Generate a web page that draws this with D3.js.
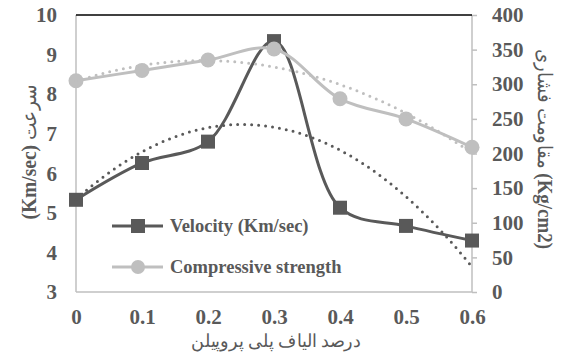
<!DOCTYPE html>
<html>
<head>
<meta charset="utf-8">
<script src="https://cdn.jsdelivr.net/npm/d3@7"></script>
<style>
body { margin: 0; background: #fff; }
text { font-family: "Liberation Serif", "DejaVu Serif", serif; }
</style>
</head>
<body>
<div class="chart"></div>
<script>
// fiber percent (x categories)
var fiber = [0, 0.1, 0.2, 0.3, 0.4, 0.5, 0.6];
var velocity = [5.33, 6.26, 6.8, 9.34, 5.13, 4.67, 4.3];
var strength = [305, 320, 335, 351, 279, 250, 209];
var leftTicks = [3, 4, 5, 6, 7, 8, 9, 10];
var rightTicks = [0, 50, 100, 150, 200, 250, 300, 350, 400];
var xTicks = [0, 0.1, 0.2, 0.3, 0.4, 0.5, 0.6];

var W = 568, H = 354,
	pL = 76, pT = 15, pR = 472, pB = 292;

var dark = '#595959', light = '#bfbfbf';
var tickFont = '21px';

var x = d3.scaleLinear().domain([0, 0.6]).range([pL, pR]);
var yL = d3.scaleLinear().domain([3, 10]).range([pB, pT]);
var yR = d3.scaleLinear().domain([0, 400]).range([pB, pT]);

var svg = d3.select('.chart')
	.append('svg')
	.attr('width', W)
	.attr('height', H);

// quadratic least squares trend (like excel poly 2)
function polyFit(xs, ys) {
	var n = xs.length, s = [0, 0, 0, 0, 0], t = [0, 0, 0];
	for (var i = 0; i < n; i++) {
		for (var k = 0; k < 5; k++) s[k] += Math.pow(xs[i], k);
		for (var k = 0; k < 3; k++) t[k] += ys[i] * Math.pow(xs[i], k);
	}
	var m = [[s[0], s[1], s[2], t[0]], [s[1], s[2], s[3], t[1]], [s[2], s[3], s[4], t[2]]];
	for (var c = 0; c < 3; c++) {
		for (var r = c + 1; r < 3; r++) {
			var f = m[r][c] / m[c][c];
			for (var j = c; j < 4; j++) m[r][j] -= f * m[c][j];
		}
	}
	var a = [0, 0, 0];
	for (var r = 2; r >= 0; r--) {
		var v = m[r][3];
		for (var j = r + 1; j < 3; j++) v -= m[r][j] * a[j];
		a[r] = v / m[r][r];
	}
	return function(v) { return a[0] + a[1] * v + a[2] * v * v; };
}

// axis lines
svg.append('line').attr('x1', pL).attr('x2', pL).attr('y1', pT).attr('y2', pB)
	.attr('stroke', light).attr('stroke-width', 1.5);
svg.append('line').attr('x1', pL).attr('x2', pR).attr('y1', pB).attr('y2', pB)
	.attr('stroke', light).attr('stroke-width', 1.5);
svg.append('line').attr('x1', pR).attr('x2', pR).attr('y1', pT).attr('y2', pB)
	.attr('stroke', light).attr('stroke-width', 1.5);
svg.append('line').attr('x1', pL).attr('x2', pR).attr('y1', pT).attr('y2', pT)
	.attr('stroke', '#000').attr('stroke-width', 1.5);

function styleTicks(g) {
	g.select('.domain').remove();
	g.selectAll('text')
		.attr('fill', dark)
		.style('font-family', '"Liberation Serif", serif')
		.style('font-size', tickFont)
		.style('font-weight', 'bold');
}

// right axis ticks + labels
var rAxis = svg.append('g')
	.attr('transform', 'translate(' + pR + ',0)')
	.call(d3.axisRight(yR).tickValues(rightTicks).tickSize(5).tickPadding(15));
styleTicks(rAxis);
rAxis.selectAll('line').attr('stroke', light).attr('stroke-width', 1.5);

// left axis labels
var lAxis = svg.append('g')
	.attr('transform', 'translate(' + pL + ',0)')
	.call(d3.axisLeft(yL).tickValues(leftTicks).tickSize(0).tickPadding(19)
		.tickFormat(d3.format('d')));
styleTicks(lAxis);

// x labels
var xAxis = svg.append('g')
	.attr('transform', 'translate(0,' + pB + ')')
	.call(d3.axisBottom(x).tickValues(xTicks).tickSize(0).tickPadding(17)
		.tickFormat(function(d) { return d === 0 ? '0' : d3.format('.1f')(d); }));
styleTicks(xAxis);

// axis titles
svg.append('text')
	.attr('x', 276).attr('y', 347)
	.attr('text-anchor', 'middle')
	.attr('fill', dark)
	.attr('textLength', 170)
	.attr('lengthAdjust', 'spacingAndGlyphs')
	.style('font-size', '18px')
	.text('درصد الیاف پلی پروپیلن');

var lt = svg.append('text')
	.attr('transform', 'translate(29,152) rotate(-90)')
	.attr('text-anchor', 'middle')
	.attr('dominant-baseline', 'central')
	.attr('fill', dark)
	.attr('textLength', 135)
	.attr('lengthAdjust', 'spacingAndGlyphs');
lt.append('tspan').style('font-weight', 'bold').style('font-size', '21px').text('(Km/sec) ');
lt.append('tspan').style('font-size', '20px').text('سرعت');

var rt = svg.append('text')
	.attr('transform', 'translate(545,149) rotate(90)')
	.attr('text-anchor', 'middle')
	.attr('dominant-baseline', 'central')
	.attr('fill', dark)
	.attr('textLength', 200)
	.attr('lengthAdjust', 'spacingAndGlyphs');
rt.append('tspan').style('font-size', '20px').text('مقاومت فشاری ');
rt.append('tspan').style('font-weight', 'bold').style('font-size', '21px').text('(Kg/cm2)');

// series
var vData = fiber.map(function(f, i) { return [f, velocity[i]]; });
var sData = fiber.map(function(f, i) { return [f, strength[i]]; });

var vLine = d3.line().curve(d3.curveCatmullRom.alpha(0.5))
	.x(function(d) { return x(d[0]); })
	.y(function(d) { return yL(d[1]); });
var sLine = d3.line().curve(d3.curveCatmullRom.alpha(0.5))
	.x(function(d) { return x(d[0]); })
	.y(function(d) { return yR(d[1]); });

svg.append('path').attr('d', vLine(vData))
	.attr('fill', 'none').attr('stroke', dark).attr('stroke-width', 3);
svg.selectAll('rect.vel')
	.data(vData)
	.enter()
	.append('rect')
	.attr('class', 'vel')
	.attr('x', function(d) { return x(d[0]) - 7; })
	.attr('y', function(d) { return yL(d[1]) - 7; })
	.attr('width', 14)
	.attr('height', 14)
	.attr('fill', dark);

svg.append('path').attr('d', sLine(sData))
	.attr('fill', 'none').attr('stroke', light).attr('stroke-width', 3);
svg.selectAll('circle.str')
	.data(sData)
	.enter()
	.append('circle')
	.attr('class', 'str')
	.attr('cx', function(d) { return x(d[0]); })
	.attr('cy', function(d) { return yR(d[1]); })
	.attr('r', 7.5)
	.attr('fill', light);

// trendlines
var vFit = polyFit(fiber, velocity), sFit = polyFit(fiber, strength);
var xs = d3.range(0, 0.6001, 0.005);
svg.append('path')
	.attr('d', d3.line()(xs.map(function(v) { return [x(v), yL(vFit(v))]; })))
	.attr('fill', 'none').attr('stroke', dark).attr('stroke-width', 3)
	.attr('stroke-linecap', 'round').attr('stroke-dasharray', '0,7');
svg.append('path')
	.attr('d', d3.line()(xs.map(function(v) { return [x(v), yR(sFit(v))]; })))
	.attr('fill', 'none').attr('stroke', light).attr('stroke-width', 3)
	.attr('stroke-linecap', 'round').attr('stroke-dasharray', '0,7');

// legend
var legend = [
	{ name: 'Velocity (Km/sec)', color: dark, shape: 'rect', y: 226 },
	{ name: 'Compressive strength', color: light, shape: 'circle', y: 267 }
];
var lg = svg.selectAll('g.leg').data(legend).enter().append('g').attr('class', 'leg');
lg.append('line')
	.attr('x1', 112).attr('x2', 163)
	.attr('y1', function(d) { return d.y; }).attr('y2', function(d) { return d.y; })
	.attr('stroke', function(d) { return d.color; }).attr('stroke-width', 3);
lg.filter(function(d) { return d.shape === 'rect'; }).append('rect')
	.attr('x', 131).attr('y', function(d) { return d.y - 7; })
	.attr('width', 14).attr('height', 14).attr('fill', dark);
lg.filter(function(d) { return d.shape === 'circle'; }).append('circle')
	.attr('cx', 138).attr('cy', function(d) { return d.y; })
	.attr('r', 7).attr('fill', light);
lg.append('text')
	.attr('x', 170).attr('y', function(d) { return d.y + 6; })
	.attr('fill', dark)
	.style('font-size', '18.5px')
	.style('font-weight', 'bold')
	.text(function(d) { return d.name; });
</script>
</body>
</html>
